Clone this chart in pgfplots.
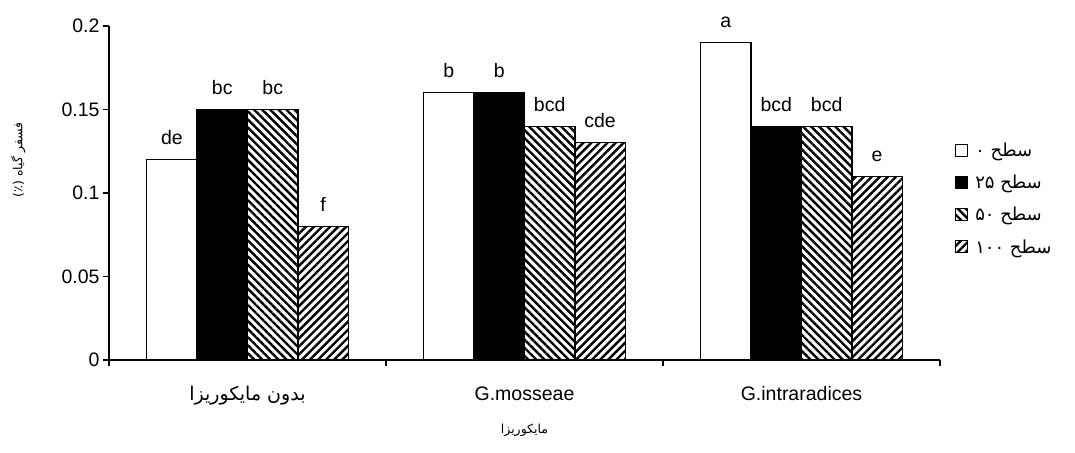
\documentclass[border=0pt]{standalone}
\usepackage{fontspec}
\setmainfont{Liberation Sans}
\newfontfamily\arabicfont[Script=Arabic]{DejaVu Sans}
\usepackage{pgfplots}
\pgfplotsset{compat=1.18}
\usetikzlibrary{patterns.meta}
\TeXXeTstate=1

\begin{document}
\begin{tikzpicture}
\begin{axis}[
    name=ax, at={(0,0)}, anchor=south west,
    scale only axis, width=831pt, height=334pt,
    ybar=0pt, bar width=0.182,
    xmin=-0.5, xmax=2.5, ymin=0, ymax=0.2,
    axis x line=bottom, axis y line=left,
    axis line style={-, line width=1.3pt},
    tick align=outside,
    xtick={0,1,2},
    xticklabels={{\arabicfont\fontsize{19}{22}\selectfont\beginR بدون مایکوریزا\endR}, G.mosseae, G.intraradices},
    minor xtick={-0.5,0.5,1.5,2.5},
    major x tick style={draw=none},
    minor x tick style={line width=1.3pt, black},
    minor tick length=6pt, major tick length=6pt,
    ytick={0,0.05,0.1,0.15,0.2},
    y tick style={line width=1.3pt, black},
    scaled y ticks=false,
    yticklabel style={/pgf/number format/fixed, /pgf/number format/precision=2,
        /pgf/number format/assume math mode=true},
    tick label style={font=\fontsize{19.5}{22}\selectfont},
    xticklabel style={yshift=-17pt},
    xlabel={\arabicfont\fontsize{12.5}{15}\selectfont\beginR مایکوریزا\endR},
    xlabel style={at={(axis description cs:0.5,0)}, anchor=center, yshift=-70pt},
    ylabel={\arabicfont\fontsize{12.5}{15}\selectfont\beginR فسفر گیاه \beginL(٪)\endL\endR},
    ylabel style={at={(axis description cs:-0.109,0.6)}, anchor=center},
    point meta=explicit symbolic,
    nodes near coords,
    every node near coord/.append style={font=\fontsize{19.5}{22}\selectfont, black, yshift=11pt},
    legend style={at={(axis description cs:1.018,0.483)}, anchor=west, draw=none,
        inner sep=0pt, row sep=13pt, font=\arabicfont\fontsize{18}{20}\selectfont},
    legend cell align=left,
    legend image code/.code={\draw[#1, line width=1pt] (0pt,-6pt) rectangle (12pt,6pt);
        \path (17pt,0pt);},
]
\addplot[draw=black, line width=1.2pt, fill=white]
    coordinates {(0,0.12) [de] (1,0.16) [b] (2,0.19) [a]};
\addplot[draw=black, line width=1.2pt, fill=black]
    coordinates {(0,0.15) [bc] (1,0.16) [b] (2,0.14) [bcd]};
\addplot[draw=black, line width=1.2pt, pattern={Lines[angle=-45, distance=5.7pt, line width=2.4pt]}]
    coordinates {(0,0.15) [bc] (1,0.14) [bcd] (2,0.14) [bcd]};
\addplot[draw=black, line width=1.2pt, pattern={Lines[angle=45, distance=5.7pt, line width=2.4pt]}]
    coordinates {(0,0.08) [f] (1,0.13) [cde] (2,0.11) [e]};
\addlegendentry{\beginR سطح \beginL۰\endL\endR}
\addlegendentry{\beginR سطح \beginL۲۵\endL\endR}
\addlegendentry{\beginR سطح \beginL۵۰\endL\endR}
\addlegendentry{\beginR سطح \beginL۱۰۰\endL\endR}
\end{axis}
\pgfresetboundingbox
\path[use as bounding box] (-109pt,-92pt) rectangle (966pt,360pt);
\end{tikzpicture}
\end{document}
